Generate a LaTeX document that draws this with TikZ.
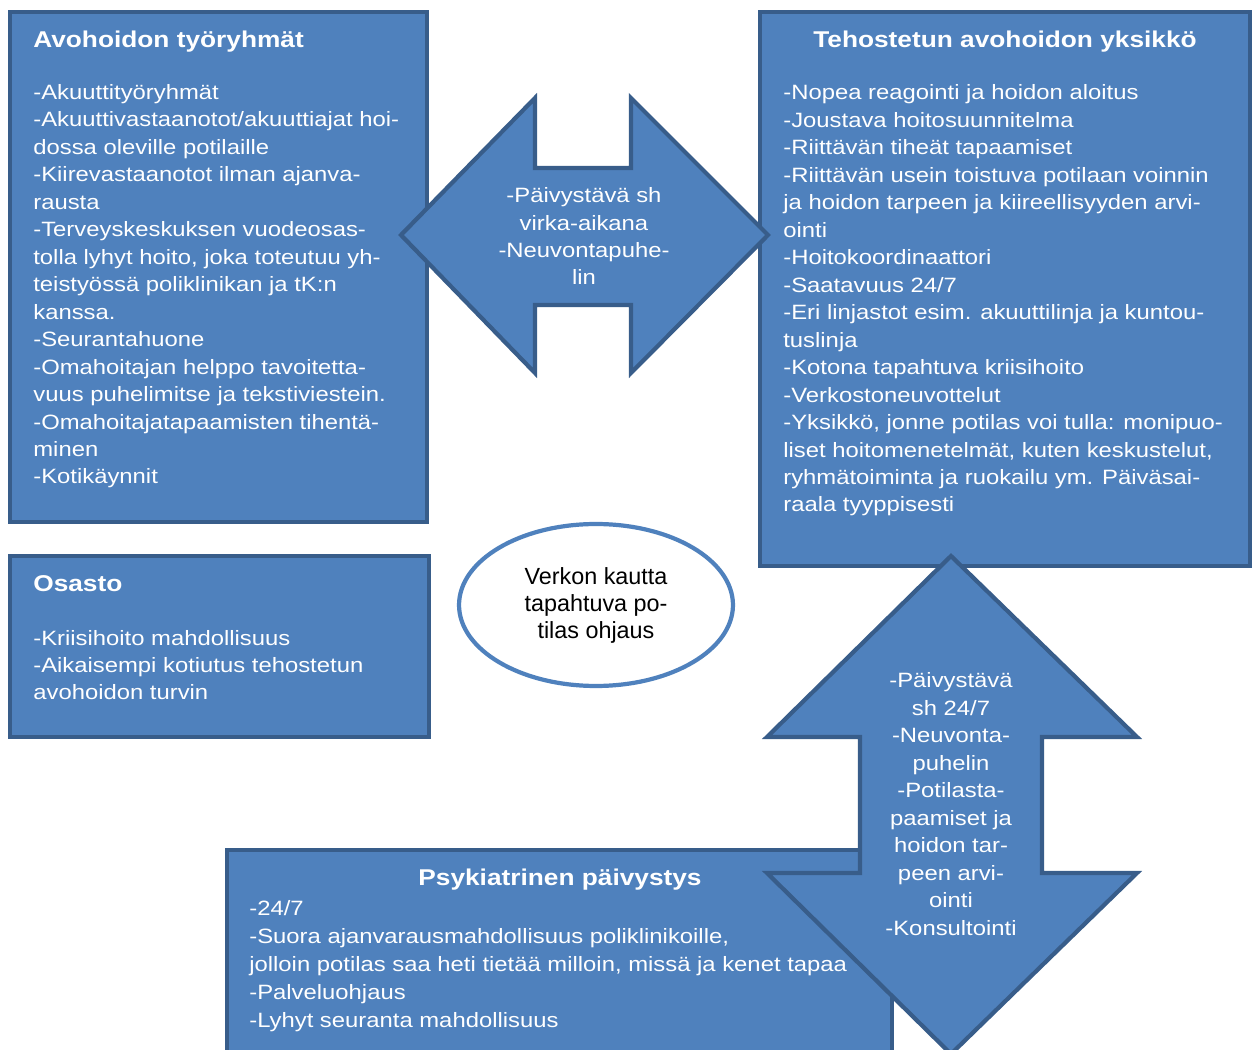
\documentclass[tikz,border=0pt]{standalone}
\usepackage{fontspec}
\setmainfont{Liberation Sans}
\newfontfamily\levea[FakeStretch=1.15]{Liberation Sans}
\usepackage{tikz}
\usetikzlibrary{shapes.geometric}
\definecolor{laatikko}{HTML}{4F81BD}
\definecolor{reuna}{HTML}{385D8A}

\begin{document}
\begin{tikzpicture}[x=0.02cm,y=-0.02cm,
  box/.style={fill=laatikko,draw=reuna,line width=2.4pt},
  nuoli/.style={fill=laatikko,draw=reuna,line width=2.4pt,line join=miter},
  lista/.style={text=white,align=left,inner sep=0pt,anchor=base west,font=\levea\fontsize{11.8}{15.65}\selectfont},
  keski/.style={text=white,align=center,inner sep=0pt,anchor=base,font=\levea\fontsize{11.8}{15.65}\selectfont},
  otsikko/.style={text=white,inner sep=0pt,font=\levea\fontsize{13}{16}\selectfont\bfseries}]
\useasboundingbox (0,0) rectangle (1252,1050);

% laatikot
\draw[box] (10,12) rectangle (427,522);
\draw[box] (760,12) rectangle (1250,566);
\draw[box] (10,556) rectangle (429,737);
\draw[box] (227,850) rectangle (892,1060);

% tekstit (ankkuri = viimeisen rivin perusviiva)
\node[otsikko,anchor=base west] (avoots) at (33,48) {Avohoidon työryhmät};
\node[lista] (avolista) at (33,484) {-Akuuttityöryhmät\\
-Akuuttivastaanotot/akuuttiajat hoi-\\
dossa oleville potilaille\\
-Kiirevastaanotot ilman ajanva-\\
rausta\\
-Terveyskeskuksen vuodeosas-\\
tolla lyhyt hoito, joka toteutuu yh-\\
teistyössä poliklinikan ja tK:n\\
kanssa.\\
-Seurantahuone\\
-Omahoitajan helppo tavoitetta-\\
vuus puhelimitse ja tekstiviestein.\\
-Omahoitajatapaamisten tihentä-\\
minen\\
-Kotikäynnit};

\node[otsikko,anchor=base] (tehots) at (1005,48) {Tehostetun avohoidon yksikkö};
\node[lista] (tehlista) at (783,512) {-Nopea reagointi ja hoidon aloitus\\
-Joustava hoitosuunnitelma\\
-Riittävän tiheät tapaamiset\\
-Riittävän usein toistuva potilaan voinnin\\
ja hoidon tarpeen ja kiireellisyyden arvi-\\
ointi\\
-Hoitokoordinaattori\\
-Saatavuus 24/7\\
-Eri linjastot esim. akuuttilinja ja kuntou-\\
tuslinja\\
-Kotona tapahtuva kriisihoito\\
-Verkostoneuvottelut\\
-Yksikkö, jonne potilas voi tulla: monipuo-\\
liset hoitomenetelmät, kuten keskustelut,\\
ryhmätoiminta ja ruokailu ym. Päiväsai-\\
raala tyyppisesti};

\node[otsikko,anchor=base west] (osots) at (33,592) {Osasto};
\node[lista] (oslista) at (33,700) {-Kriisihoito mahdollisuus\\
-Aikaisempi kotiutus tehostetun\\
avohoidon turvin};

\node[otsikko,anchor=base] (psyots) at (560,886) {Psykiatrinen päivystys};
\node[lista,font=\levea\fontsize{11.8}{15.8}\selectfont] (psylista) at (249,1027) {-24/7\\
-Suora ajanvarausmahdollisuus poliklinikoille,\\
jolloin potilas saa heti tietää milloin, missä ja kenet tapaa\\
-Palveluohjaus\\
-Lyhyt seuranta mahdollisuus};

% nuolet
\draw[nuoli] (401,235) -- (535,98) -- (535,168) -- (631,168) -- (631,98) -- (768,235)
  -- (631,373) -- (631,305) -- (535,305) -- (535,373) -- cycle;
\node[keski] (vaaka) at (584,285) {-Päivystävä sh\\virka-aikana\\-Neuvontapuhe-\\lin};

\draw[nuoli] (951,556) -- (1137,737) -- (1042,737) -- (1042,873) -- (1137,873) -- (951,1054)
  -- (767,873) -- (860,873) -- (860,737) -- (767,737) -- cycle;
\node[keski] (pysty) at (951,935) {-Päivystävä\\sh 24/7\\-Neuvonta-\\puhelin\\-Potilasta-\\paamiset ja\\hoidon tar-\\peen arvi-\\ointi\\-Konsultointi};

% soikio
\node[ellipse,draw=laatikko,fill=white,line width=2.4pt,minimum width=5.48cm,minimum height=3.24cm,
  inner sep=0pt] (verkko) at (596,605) {};
\node[align=center,inner sep=0pt,anchor=base,font=\fontsize{13.3}{15.65}\selectfont] (verkkoteksti)
  at (596,639) {Verkon kautta\\tapahtuva po-\\tilas ohjaus};
\end{tikzpicture}
\end{document}
